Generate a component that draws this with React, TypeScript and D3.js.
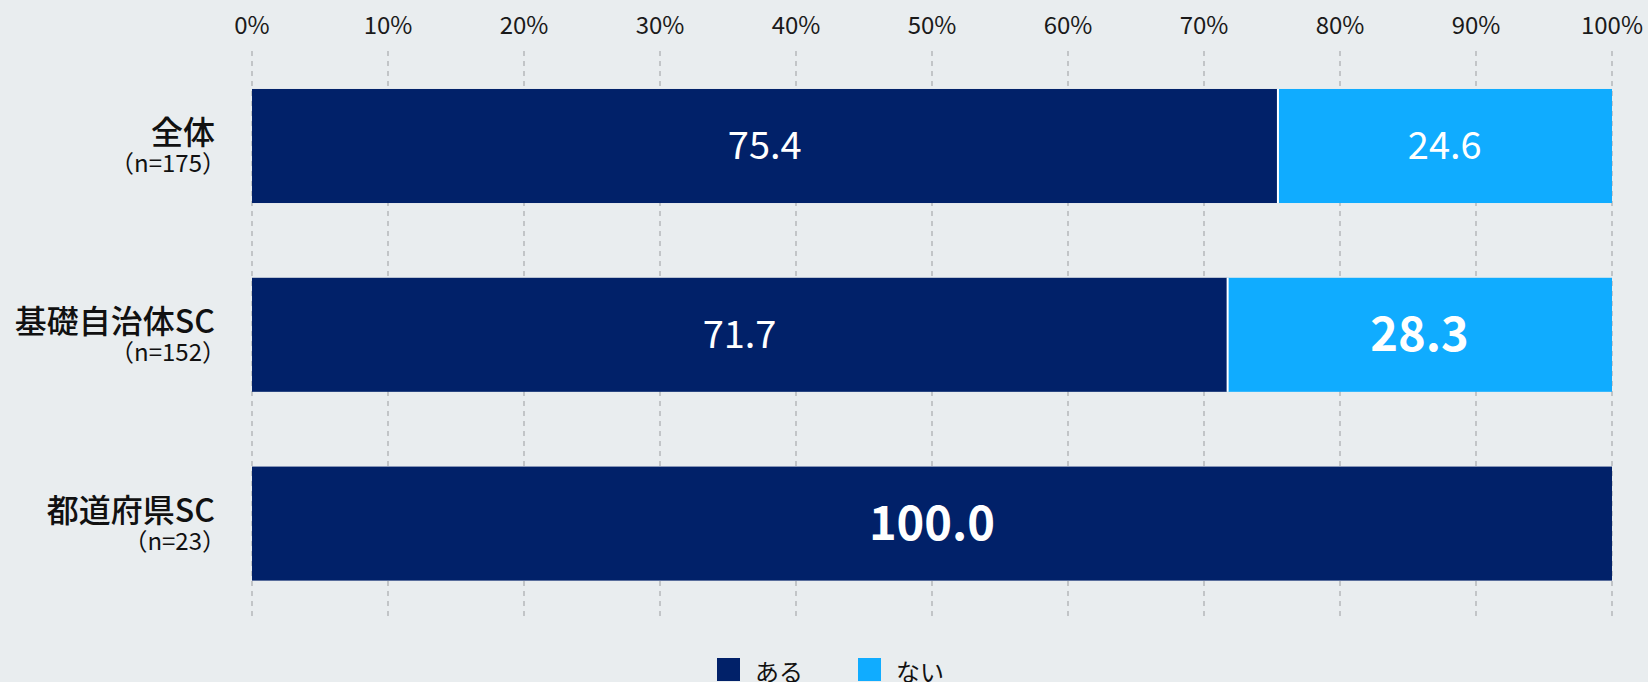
import React from "react";
import * as d3 from "d3";

const categories = ["全体", "基礎自治体SC", "都道府県SC"];
const sampleSizes = ["（n=175）", "（n=152）", "（n=23）"];
const seriesNames = ["ある", "ない"];
const aruValues = [75.4, 71.7, 100.0];
const naiValues = [24.6, 28.3, 0];
// labels drawn in bold (emphasised in the original)
const aruBold = [false, false, true];
const naiBold = [false, true, false];
const xTicks = [0, 10, 20, 30, 40, 50, 60, 70, 80, 90, 100];

const W = 1648;
const H = 682;
const BG = "#E9EDEF";
const NAVY = "#012169";
const SKY = "#10ACFF";
const FONT = "'Noto Sans CJK JP', 'Noto Sans', sans-serif";

export default function App() {
  const x = d3.scaleLinear().domain([0, 100]).range([252, 1612]);
  const y = d3
    .scaleBand<string>()
    .domain(categories)
    .range([51.6, 618])
    .paddingInner(0.396)
    .paddingOuter(0.198);
  const bw = y.bandwidth();
  const colors = [NAVY, SKY];

  const rows = categories.map((c, i) => {
    const stack = [
      { v: aruValues[i], x0: 0, x1: aruValues[i], bold: aruBold[i], color: colors[0] },
      { v: naiValues[i], x0: aruValues[i], x1: aruValues[i] + naiValues[i], bold: naiBold[i], color: colors[1] },
    ];
    return { c, i, stack };
  });

  const boldSize = 47;
  const normSize = 38;

  return (
    <svg
      width={W}
      height={H}
      style={{ position: "absolute", left: 0, top: 0, display: "block" }}
      fontFamily={FONT}
    >
      <rect x={0} y={0} width={W} height={H} fill={BG} />
      {/* grid */}
      {xTicks.map((t) => (
        <g key={t}>
          <line
            x1={x(t)}
            x2={x(t)}
            y1={51}
            y2={618}
            stroke="#A9ABAD"
            strokeWidth={1.2}
            strokeDasharray="5,5"
          />
          <text
            x={x(t)}
            y={34}
            textAnchor="middle"
            fontSize={24}
            fill="#1A1A1A"
          >
            {t}%
          </text>
        </g>
      ))}
      {/* bars */}
      {rows.map(({ c, i, stack }) => {
        const top = y(c)!;
        const cy = top + bw / 2;
        return (
          <g key={c}>
            {stack.map((s, k) =>
              s.v > 0 ? (
                <rect
                  key={k}
                  x={x(s.x0)}
                  y={top}
                  width={x(s.x1) - x(s.x0)}
                  height={bw}
                  fill={s.color}
                />
              ) : null
            )}
            {stack[1].v > 0 ? (
              <line
                x1={x(stack[1].x0) + 0.5}
                x2={x(stack[1].x0) + 0.5}
                y1={top}
                y2={top + bw}
                stroke="#FFFFFF"
                strokeWidth={2}
              />
            ) : null}
            {stack.map((s, k) =>
              s.v > 0 ? (
                <text
                  key={"t" + k}
                  x={(x(s.x0) + x(s.x1)) / 2}
                  y={cy + (s.bold ? 0.35 * boldSize : 0.34 * normSize)}
                  textAnchor="middle"
                  fontSize={s.bold ? boldSize : normSize}
                  fontWeight={s.bold ? 700 : 400}
                  fill="#FFFFFF"
                >
                  {s.v.toFixed(1)}
                </text>
              ) : null
            )}
            <text
              x={215}
              y={cy - 2}
              textAnchor="end"
              fontSize={32}
              fontWeight={500}
              fill="#111111"
            >
              {c}
            </text>
            <text
              x={226}
              y={cy + 26}
              textAnchor="end"
              fontSize={24}
              fill="#111111"
            >
              {sampleSizes[i]}
            </text>
          </g>
        );
      })}
      {/* legend */}
      {seriesNames.map((n, k) => {
        const lx = [717, 858][k];
        return (
          <g key={n}>
            <rect x={lx} y={658} width={23} height={23} fill={colors[k]} />
            <text x={lx + 38} y={681} fontSize={24} fill="#111111">
              {n}
            </text>
          </g>
        );
      })}
    </svg>
  );
}
